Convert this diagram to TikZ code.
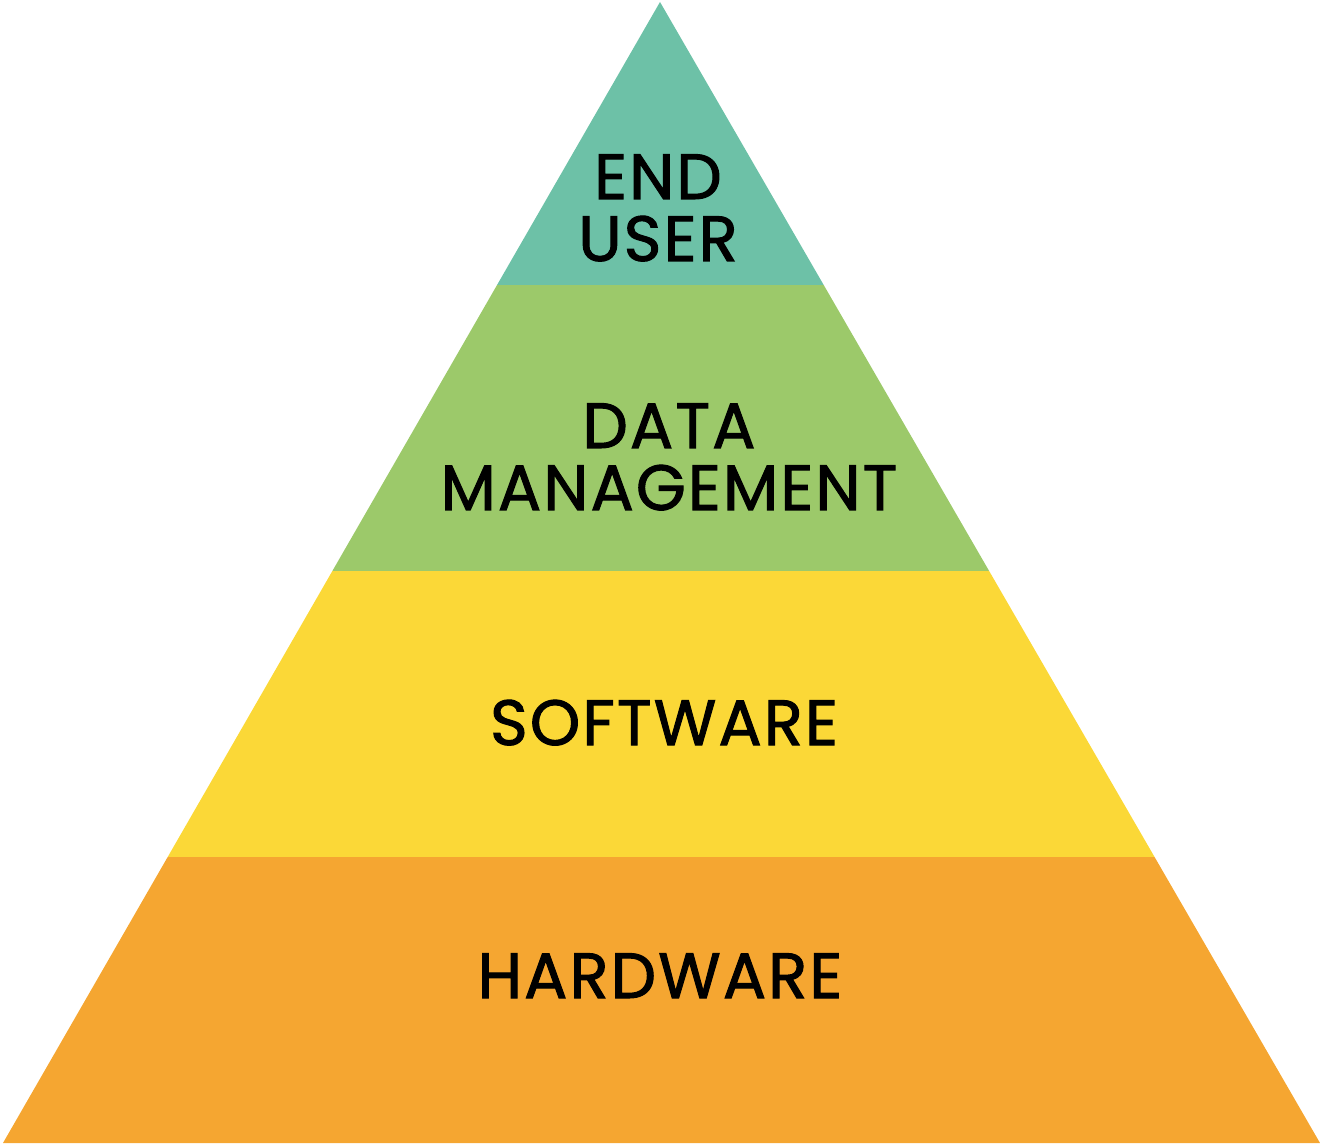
\documentclass[tikz,border=0pt]{standalone}
\usepackage{fontspec}
\setmainfont{Poppins}[FakeBold=1.6, LetterSpace=3.5]
\definecolor{cteal}{HTML}{6DC1A7}
\definecolor{cgreen}{HTML}{9CC96A}
\definecolor{cyellow}{HTML}{FBD837}
\definecolor{corange}{HTML}{F5A631}
\tikzset{
  lbl/.style={anchor=base, align=center, text=black, inner sep=0pt,
    font=\fontsize{64}{62}\selectfont},
}
\begin{document}
\begin{tikzpicture}[x=1pt,y=1pt]
\useasboundingbox (0,0) rectangle (1321,1144);
\coordinate (apex) at (660,1142);
\coordinate (bl) at (3,1);
\coordinate (br) at (1320,1);
\begin{scope}
\clip (apex) -- (bl) -- (br) -- cycle;
\fill[corange] (0,0) rectangle (1321,287);
\fill[cyellow] (0,287) rectangle (1321,573);
\fill[cgreen] (0,573) rectangle (1321,859);
\fill[cteal] (0,859) rectangle (1321,1144);
\end{scope}
\node[lbl] (enduser) at (658,883) {END\\USER};
\node[lbl] (datamgmt) at (669,634) {DATA\\MANAGEMENT};
\node[lbl] (software) at (664,399) {SOFTWARE};
\node[lbl] (hardware) at (660,146) {HARDWARE};
\end{tikzpicture}
\end{document}
